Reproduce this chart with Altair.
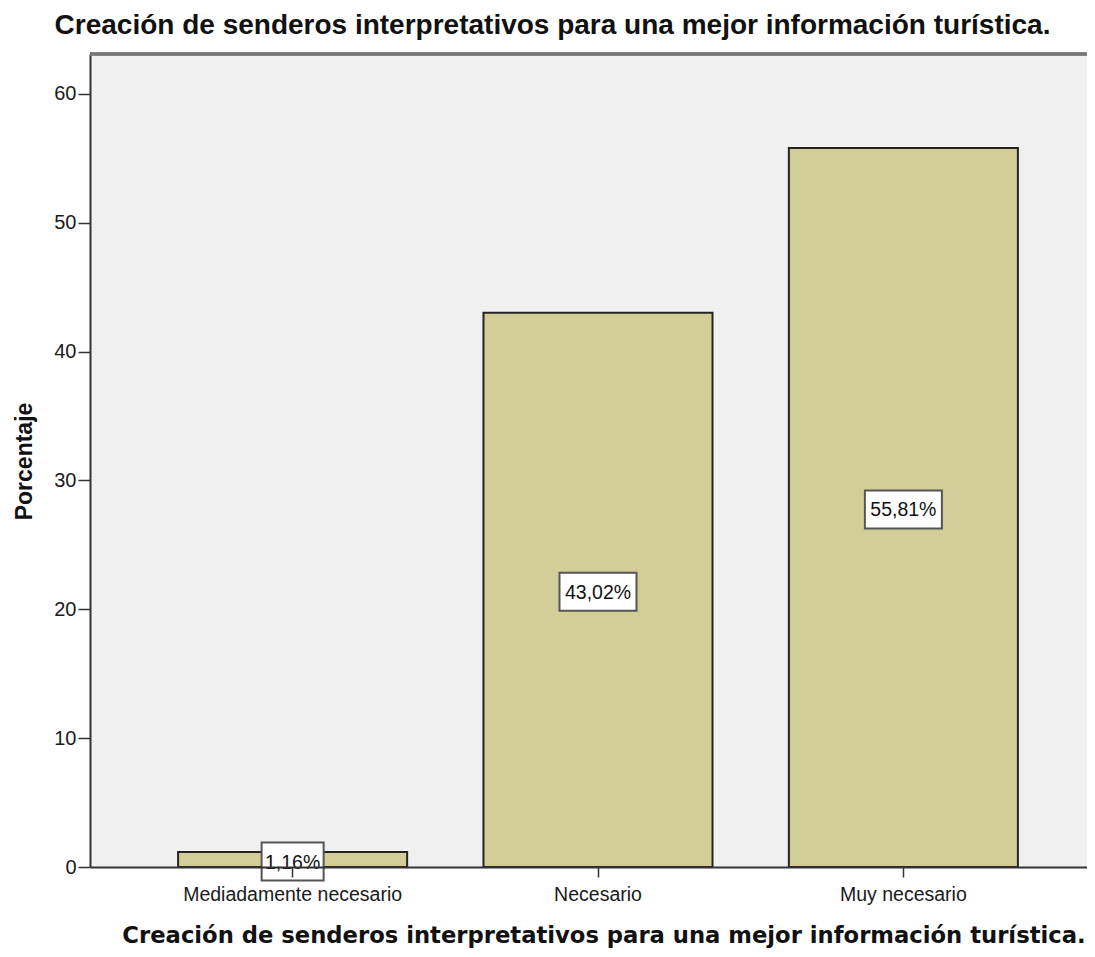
import altair as alt
import pandas as pd

categories = ["Mediadamente necesario", "Necesario", "Muy necesario"]
percentages = [1.16, 43.02, 55.81]
y_ticks = [0, 10, 20, 30, 40, 50, 60]
title_text = "Creación de senderos interpretativos para una mejor información turística."
y_title = "Porcentaje"

df = pd.DataFrame({"cat": categories, "pct": percentages})

YMAX = 63.1
W, H = 997, 813

x_scale = alt.Scale(range=[0, 1016], paddingInner=0.25, paddingOuter=0.2885)
y_scale = alt.Scale(domain=[0, YMAX], nice=False, zero=True)

x_axis = alt.Axis(
    labelAngle=0, labelFont="Liberation Sans", labelFontSize=19.5, labelColor="#1a1a1a",
    labelPadding=8, labelLimit=0, tickSize=10, tickColor="#333333", tickWidth=1.5,
    domainColor="#333333", domainWidth=2,
    titleFont="DejaVu Sans", titleFontSize=22.7, titleFontWeight="bold", titleColor="#111111",
    titleX=513.5, titleY=75, titleAlign="center", titleBaseline="alphabetic",
    zindex=1, grid=False,
)
y_axis = alt.Axis(
    values=y_ticks, labelFont="Liberation Sans", labelFontSize=20, labelColor="#1a1a1a",
    labelPadding=2, tickSize=12, tickColor="#333333", tickWidth=1.5,
    domainColor="#333333", domainWidth=2,
    titleFont="Liberation Sans", titleFontSize=23, titleFontWeight="bold", titleColor="#111111",
    titleAngle=270, titleX=-66, titleY=407, titleAlign="center", titleBaseline="middle",
    grid=False,
)


def X():
    return alt.X("cat:N", sort=categories, scale=x_scale, axis=x_axis, title=title_text)


def Y(field):
    return alt.Y(field, scale=y_scale, axis=y_axis, title=y_title)


base = alt.Chart(df)

bars = base.mark_bar(fill="#D3CE97", stroke="#242424", strokeWidth=2).encode(
    x=X(), y=Y("pct:Q")
)

layers = [bars]

for cat, val in zip(categories, percentages):
    lab = f"{val:.2f}".replace(".", ",") + "%"
    w = 15 * len(lab) - 13
    box = (
        base.transform_filter(alt.datum.cat == cat)
        .transform_calculate(half="datum.pct / 2")
        .mark_bar(width=w, fill="white", stroke="#555555", strokeWidth=2, yOffset=-17, y2Offset=21)
        .encode(x=X(), y=Y("half:Q"), y2=alt.Y2("half"))
    )
    layers.append(box)

texts = (
    base.transform_calculate(
        half="datum.pct / 2",
        lab="replace(format(datum.pct, '.2f'), '.', ',') + '%'",
    )
    .mark_text(font="Liberation Sans", fontSize=19.5, color="#111111", baseline="middle", dy=3)
    .encode(x=X(), y=Y("half:Q"), text="lab:N")
)
layers.append(texts)

top_rule = base.mark_rule(color="#777777", strokeWidth=3).encode(
    x=alt.value(0), x2=alt.value(1016), y=alt.value(0)
)
layers.append(top_rule)

chart = (
    alt.layer(*layers)
    .properties(
        width=W,
        height=H,
        autosize=alt.AutoSizeParams(type="none"),
        padding={"left": 82, "top": 46, "right": 0, "bottom": 82},
        title=alt.Title(
            title_text, font="Liberation Sans", fontSize=28, fontWeight="bold",
            color="#111111", anchor="middle", dx=-36, dy=33, offset=24, baseline="alphabetic",
        ),
        background="white",
    )
    .configure_view(fill="#F0F0F0", stroke=None)
)

chart.save("out.html", embed_options={"renderer": "svg", "actions": False})
